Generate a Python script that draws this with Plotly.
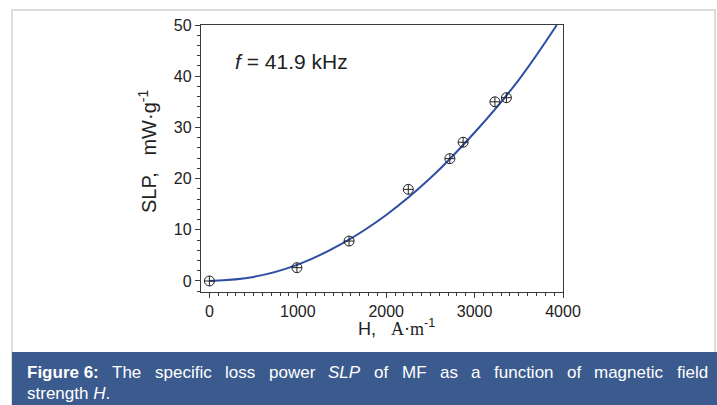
import plotly.graph_objects as go

# Measured points
H_meas = [0, 990, 1580, 2250, 2720, 2870, 3230, 3360]
SLP_meas = [0, 2.6, 7.8, 17.9, 23.9, 27.1, 35.0, 35.8]

# Fitted curve
H_fit = [0, 500, 1000, 1500, 2000, 2500, 3000, 3500, 3930]
SLP_fit = [0, 0.8, 3.2, 7.3, 12.9, 20.1, 29.0, 39.3, 50.0]

x_ticks = [0, 1000, 2000, 3000, 4000]
y_ticks = [0, 10, 20, 30, 40, 50]

W, H = 717, 405
L, R, T, B = 201, 563, 25, 292  # plot area pixels


def px(x):
    return (x - L) / (R - L)


def py(y):
    return (B - y) / (B - T)


FONT = "Liberation Sans, Arial, sans-serif"
AX = "#3a3a3a"

fig = go.Figure()
fig.add_trace(go.Scatter(x=H_fit, y=SLP_fit, mode="lines", line=dict(color="#2d4ea3", width=2, shape="spline"),
                         hoverinfo="skip", showlegend=False))
fig.add_trace(go.Scatter(x=H_meas, y=SLP_meas, mode="markers",
                         marker=dict(symbol="circle-cross-open", size=10, color="#222222", line=dict(width=1)),
                         showlegend=False))

axis_common = dict(showgrid=False, zeroline=False, showline=True, linecolor=AX, linewidth=1.3,
                   mirror=True, ticks="outside", ticklen=5, tickwidth=1, tickcolor=AX,
                   tickfont=dict(family=FONT, size=16, color="#222222"))
fig.update_xaxes(range=[-95, 4000], tickvals=x_ticks, **axis_common,
                 minor=dict(dtick=100, ticklen=3, tickcolor=AX, ticks="outside", showgrid=False))
fig.update_yaxes(range=[-2.15, 50], tickvals=y_ticks, **axis_common,
                 minor=dict(dtick=2, ticklen=3, tickcolor=AX, ticks="outside", showgrid=False))

shapes = [
    dict(type="rect", xref="paper", yref="paper", x0=px(12), x1=px(715), y0=py(412), y1=py(10),
         line=dict(color="#dddddd", width=2), fillcolor="rgba(0,0,0,0)", layer="below"),
    dict(type="rect", xref="paper", yref="paper", x0=px(12), x1=px(718), y0=py(412), y1=py(352),
         line=dict(width=0), fillcolor="#3b5a8e", layer="below"),
]

annotations = [
    dict(xref="paper", yref="paper", x=px(233), y=py(61), xanchor="left", yanchor="middle",
         text="<i>f</i> = 41.9 kHz", showarrow=False, font=dict(family=FONT, size=21, color="#222222")),
    dict(xref="paper", yref="paper", x=px(396), y=py(327), xanchor="center", yanchor="middle",
         text="H,&nbsp;&nbsp;&nbsp;<span style=\"font-family:Liberation Serif, Times New Roman, serif\">A·m</span><sup>-1</sup>",
         showarrow=False, font=dict(family=FONT, size=18, color="#222222")),
    dict(xref="paper", yref="paper", x=px(147), y=py(152), xanchor="center", yanchor="middle", textangle=-90,
         text="SLP,&nbsp;&nbsp;&nbsp;mW·g<sup>-1</sup>",
         showarrow=False, font=dict(family=FONT, size=20, color="#222222")),
]

# Caption (justified first line)
reg = {' ': 278, 'a': 556, 'c': 500, 'd': 556, 'e': 556, 'f': 278, 'g': 556, 'i': 222, 'l': 222, 'm': 833,
       'n': 556, 'o': 556, 'p': 556, 'r': 333, 's': 500, 't': 278, 'u': 556, 'w': 722, 'T': 611, 'S': 667,
       'L': 556, 'P': 667, 'M': 833, 'F': 611, 'h': 556}
bold = {'F': 611, 'i': 278, 'g': 611, 'u': 611, 'r': 389, 'e': 556, ' ': 278, '6': 556, ':': 333}
CAP = 17
words = [("Figure 6:", "b"), ("The", ""), ("specific", ""), ("loss", ""), ("power", ""), ("SLP", "i"),
         ("of", ""), ("MF", ""), ("as", ""), ("a", ""), ("function", ""), ("of", ""), ("magnetic", ""),
         ("field", "")]


def wid(w, s):
    tbl = bold if s == "b" else reg
    return sum(tbl.get(c, 556) for c in w) * CAP / 1000


x0, x1 = 25, 706
tot = sum(wid(w, s) for w, s in words)
gap = (x1 - x0 - tot) / (len(words) - 1)
xc = x0
for w, s in words:
    t = f"<b>{w}</b>" if s == "b" else (f"<i>{w}</i>" if s == "i" else w)
    annotations.append(dict(xref="paper", yref="paper", x=px(xc), y=py(372), xanchor="left", yanchor="middle",
                            text=t, showarrow=False, font=dict(family=FONT, size=CAP, color="white")))
    xc += wid(w, s) + gap
annotations.append(dict(xref="paper", yref="paper", x=px(25), y=py(393), xanchor="left", yanchor="middle",
                        text="strength <i>H</i>.", showarrow=False, font=dict(family=FONT, size=CAP, color="white")))

fig.update_layout(width=W, height=H, margin=dict(l=L, r=W - R, t=T, b=H - B),
                  paper_bgcolor="white", plot_bgcolor="white", shapes=shapes, annotations=annotations,
                  font=dict(family=FONT))

fig.write_html("out.html", config={"displayModeBar": False},
               post_script="document.body.style.margin='0';document.body.style.padding='0';"
                           "document.body.style.overflow='hidden';")
